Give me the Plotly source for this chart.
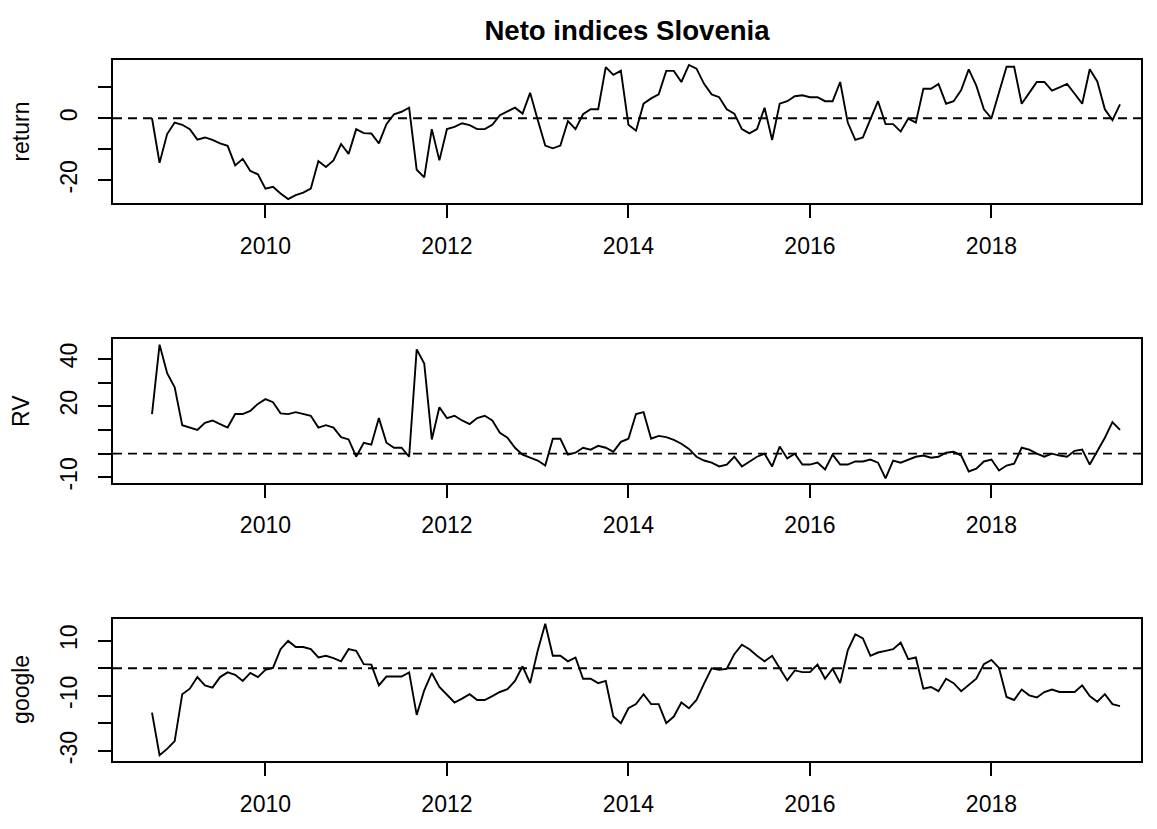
import plotly.graph_objects as go
import numpy as np

# monthly series, Oct 2008 .. Jun 2019 (R ts style time index)
start_year = 2008 + 9 / 12

ret = [0, -14.4, -5.1, -1.4, -2.1, -3.5, -6.9, -6.2, -7.0, -8.1, -8.9, -15.2, -13.1, -17.0,
       -18.1, -22.7, -22.1, -24.3, -26.1, -24.8, -24.0, -22.7, -13.8, -15.7, -13.6, -8.3,
       -11.5, -3.5, -4.8, -4.9, -8.1, -1.9, 1.3, 2.1, 3.4, -16.6, -19.1, -3.5, -13.6, -3.5,
       -2.8, -1.6, -2.2, -3.5, -3.5, -2.1, 1.0, 2.3, 3.4, 1.5, 8.2, -0.5, -8.8, -9.7, -8.8,
       -0.9, -3.5, 1.3, 2.9, 2.9, 16.5, 14.0, 15.3, -2.1, -4.0, 4.7, 6.4, 7.7, 15.3,
       15.3, 11.7, 17.2, 16.0, 11.1, 7.7, 6.8, 2.9, 1.5, -3.5, -4.9, -3.5, 3.4, -7.0, 4.7,
       5.5, 7.1, 7.4, 6.8, 6.8, 5.5, 5.5, 11.7, -1.4, -7.0, -6.2, -0.3, 5.5, -1.9, -1.9,
       -4.3, -0.1, -1.4, 9.5, 9.5, 11.1, 4.7, 5.5, 9.1, 15.8, 10.5, 2.9, 0.0, 7.9, 16.6,
       16.6, 4.7, 8.2, 11.7, 11.7, 8.9, 10.0, 11.1, 7.9, 4.7, 15.8, 11.9, 2.9, -0.6, 4.5]

rv = [16.7, 46.0, 34.0, 28.0, 12.0, 11.0, 10.0, 13.0, 14.0, 12.5, 11.0, 16.7, 16.7, 18.0,
      21.0, 23.0, 21.7, 17.0, 16.7, 17.5, 16.7, 16.0, 11.0, 12.0, 11.0, 7.0, 6.0, -1.3,
      4.6, 3.8, 15.0, 4.6, 2.5, 2.5, -1.3, 44.0, 38.0, 6.0, 19.6, 15.0, 16.0, 14.0, 12.5,
      15.0, 16.0, 14.0, 8.8, 6.7, 2.5, -0.4, -1.7, -2.9, -5.0, 6.3, 6.3, -0.4, 0.4, 2.5,
      1.7, 3.3, 2.5, 0.8, 5.0, 6.3, 16.7, 17.5, 6.3, 7.5, 7.0, 5.8, 4.2, 2.0, -1.3, -2.9,
      -3.8, -5.4, -4.6, -1.3, -5.4, -3.3, -1.3, 0.0, -5.4, 3.0, -2.0, 0.0, -4.6, -4.6,
      -3.8, -6.7, -0.4, -4.6, -4.6, -3.3, -3.3, -2.5, -3.8, -10.4, -2.9, -3.8, -2.5, -1.3,
      -0.8, -1.7, -1.3, 0.4, 0.8, -0.8, -7.5, -6.3, -3.3, -2.5, -7.1, -5.0, -4.2, 2.5, 1.7,
      0.0, -1.3, 0.0, -0.8, -1.3, 1.2, 1.7, -4.6, 0.8, 6.7, 13.3, 10.0]

google = [-16.1, -31.5, -29.2, -26.4, -9.4, -7.4, -3.2, -6.2, -7.0, -3.2, -1.5, -2.4, -4.6,
          -1.7, -3.2, -0.6, 0.1, 6.9, 9.9, 7.7, 7.7, 6.9, 3.9, 4.5, 3.7, 2.5, 6.9, 6.3, 1.5,
          1.3, -6.2, -3.0, -3.0, -3.0, -1.5, -16.9, -8.0, -1.7, -6.8, -9.8, -12.4, -11.0,
          -9.4, -11.5, -11.5, -10.1, -8.6, -7.6, -4.6, 0.7, -5.4, 6.3, 16.1, 4.5, 4.5, 2.5,
          3.9, -3.8, -3.8, -5.4, -4.6, -17.5, -19.9, -14.5, -13.0, -9.4, -13.0, -13.0,
          -19.9, -17.5, -12.4, -14.5, -11.5, -5.6, 0.0, -0.6, -0.2, 5.1, 8.5, 6.9, 4.5, 2.5,
          4.5, 0.0, -4.4, -0.8, -1.4, -1.4, 1.3, -3.8, -0.2, -5.4, 6.5, 12.3, 10.8, 4.5, 5.7,
          6.3, 6.9, 9.3, 3.3, 3.9, -7.4, -6.8, -8.3, -3.8, -5.4, -8.3, -6.2, -3.8, 1.5, 3.0,
          0.1, -10.4, -11.5, -7.7, -9.8, -10.6, -8.6, -7.7, -8.6, -8.6, -8.6, -6.2, -10.1,
          -12.1, -9.4, -13.0, -13.7]

panels = [
    ("return", ret, [-27.4, 18.8], [-20, -10, 0, 10], ["-20", "", "0", ""]),
    ("RV", rv, [-12.2, 48.2], [-10, 0, 10, 20, 30, 40], ["-10", "", "", "20", "", "40"]),
    ("google", google, [-33.6, 17.9], [-30, -20, -10, 0, 10], ["-30", "", "-10", "", "10"]),
]

# page body adds an 8px offset, so everything below is given in window pixels
OFF = 8
W, H = 1157 - OFF, 829 - OFF
L_PX, R_PX, T_PX, B_PX = 113, 1141, 60, 770
boxes = [(60, 205), (343, 488), (626, 770)]

# x scale: first month at px 152, last at px 1120
px_per_year = 968 / (128 / 12)
x_lo = start_year - (152 - L_PX) / px_per_year
x_hi = start_year + 128 / 12 + (R_PX - 1120) / px_per_year


def fy(y):
    return (B_PX - y) / (B_PX - T_PX)


def fx(x):
    return (x - L_PX) / (R_PX - L_PX)


fig = go.Figure()
font = "Liberation Sans, Arial, sans-serif"
tick_font = dict(family=font, size=23, color="black")

for k, (name, vals, yr, tv, tt) in enumerate(panels):
    x = start_year + np.arange(len(vals)) / 12
    sfx = "" if k == 0 else str(k + 1)
    fig.add_trace(go.Scatter(x=x, y=vals, mode="lines", line=dict(color="black", width=1.9),
                             xaxis="x" + sfx, yaxis="y" + sfx, showlegend=False))
    y0, y1 = boxes[k]
    fig.layout["xaxis" + sfx] = dict(
        domain=[0, 1], range=[x_lo, x_hi], anchor="y" + sfx,
        tickmode="array", tickvals=[2010, 2012, 2014, 2016, 2018],
        ticks="outside", ticklen=13, tickwidth=1.8, tickcolor="black",
        ticklabelstandoff=8,
        showline=True, linecolor="black", linewidth=1.9, mirror=True,
        showgrid=False, zeroline=False, tickfont=tick_font)
    fig.layout["yaxis" + sfx] = dict(
        domain=[fy(y1), fy(y0)], range=yr, anchor="x" + sfx,
        tickmode="array", tickvals=tv, ticktext=tt, tickangle=-90,
        ticks="outside", ticklen=13, tickwidth=1.8, tickcolor="black",
        ticklabelstandoff=12,
        showline=True, linecolor="black", linewidth=1.9, mirror=True,
        showgrid=False, zeroline=False, tickfont=tick_font)
    # dashed reference line at zero
    fig.add_shape(type="line", xref="x" + sfx + " domain", yref="y" + sfx,
                  x0=0, x1=1, y0=0, y1=0,
                  line=dict(color="black", width=1.9, dash="9px,6px"))
    # axis title
    fig.add_annotation(text=name, xref="paper", yref="paper",
                       x=fx(21), y=fy((y0 + y1) / 2), xanchor="center", yanchor="middle",
                       textangle=-90, showarrow=False, font=tick_font)

fig.update_layout(
    width=W, height=H,
    margin=dict(l=L_PX - OFF, r=W - (R_PX - OFF), t=T_PX - OFF, b=H - (B_PX - OFF)),
    plot_bgcolor="white", paper_bgcolor="white",
    title=dict(text="<b>Neto indices Slovenia</b>", x=(627 - OFF) / W, xanchor="center",
               y=1 - (30 - OFF) / H, yanchor="middle",
               font=dict(family=font, size=27.6, color="black")),
)

fig.write_html("out.html")
